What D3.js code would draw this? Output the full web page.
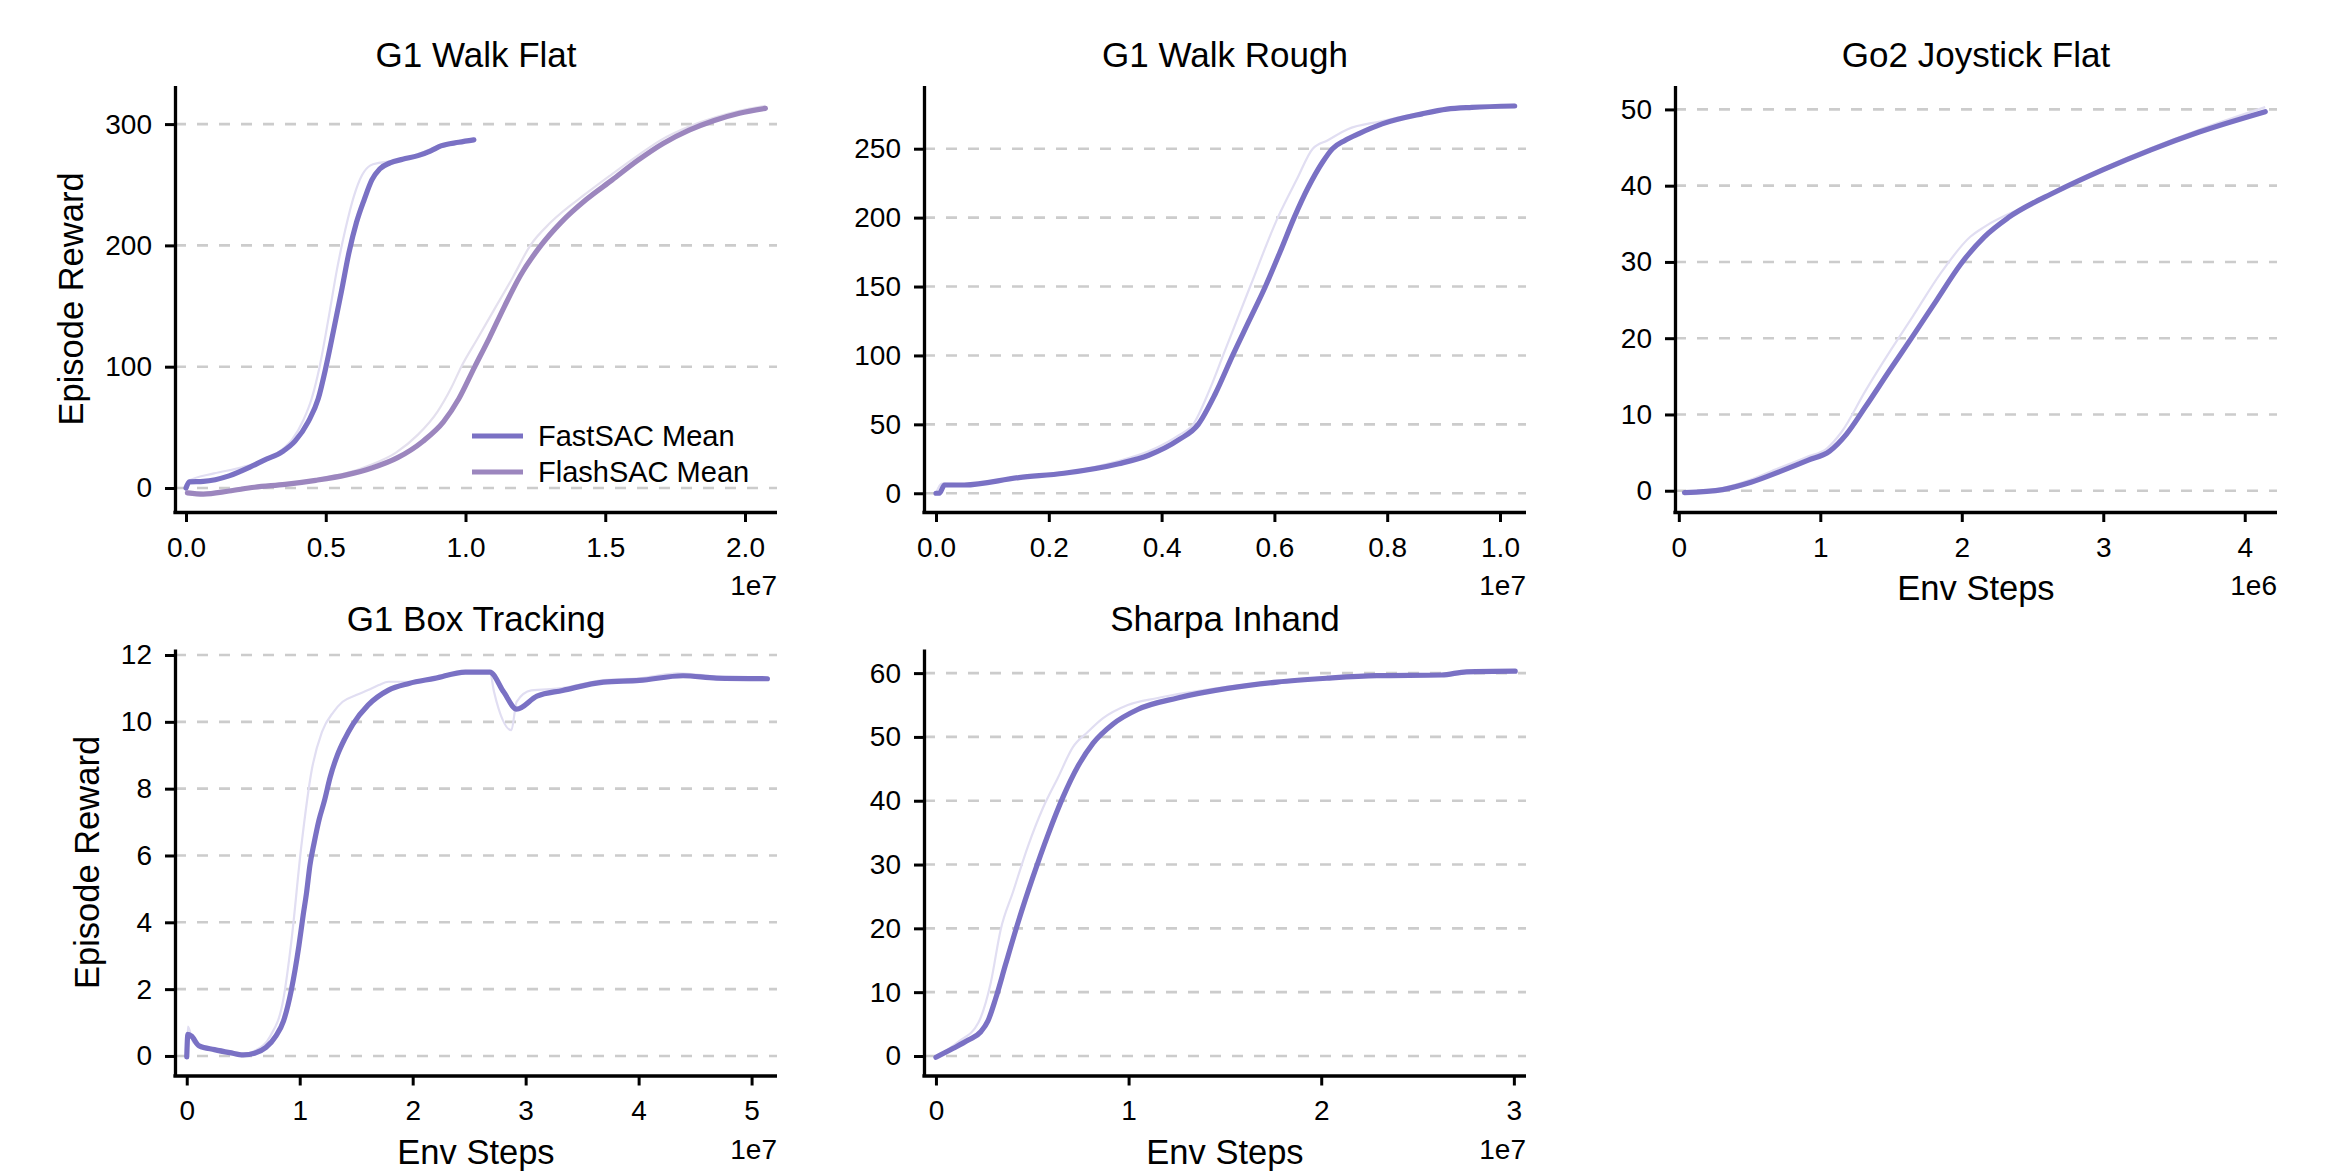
<!DOCTYPE html>
<html>
<head>
<meta charset="utf-8">
<script src="https://cdn.jsdelivr.net/npm/d3@7"></script>
<style>
  html, body { margin: 0; padding: 0; background: #fff; }
  svg text { font-family: "Liberation Sans", Arial, Helvetica, sans-serif; fill: #000; }
</style>
</head>
<body>
<svg id="chart" width="2325" height="1175"></svg>
<script>
// ---- data (x in units of 10^exponent env steps) ----
const panelTitles = ["G1 Walk Flat", "G1 Walk Rough", "Go2 Joystick Flat", "G1 Box Tracking", "Sharpa Inhand"];
const xExponents = ["1e7", "1e7", "1e6", "1e7", "1e7"];
const xTickValues = [
  [0, 0.5, 1.0, 1.5, 2.0],
  [0, 0.2, 0.4, 0.6, 0.8, 1.0],
  [0, 1, 2, 3, 4],
  [0, 1, 2, 3, 4, 5],
  [0, 1, 2, 3]
];
const yTickValues = [
  [0, 100, 200, 300],
  [0, 50, 100, 150, 200, 250],
  [0, 10, 20, 30, 40, 50],
  [0, 2, 4, 6, 8, 10, 12],
  [0, 10, 20, 30, 40, 50, 60]
];
const xLimits = [[-0.0394, 2.1145], [-0.0213, 1.0461], [-0.027, 4.228], [-0.104, 5.225], [-0.062, 3.063]];
const yLimits = [[-19.8, 331.4], [-13.6, 295.5], [-2.79, 53.07], [-0.585, 12.165], [-3.06, 63.7]];

const walkFlatFastMean = [[0,0],[0.012,5],[0.062,5.4],[0.154,10],[0.227,17],[0.28,23],[0.345,30],[0.39,38.6],[0.437,54.5],[0.473,73.5],[0.5,99],[0.528,130],[0.556,162],[0.583,194],[0.61,219],[0.638,238],[0.665,254],[0.693,263],[0.73,268],[0.775,271],[0.83,274],[0.876,278],[0.912,282],[0.976,285],[1.03,287]];
const walkFlatFastRaw = [[0,0],[0.01,6],[0.1,12],[0.2,17],[0.3,25],[0.34,31],[0.38,40],[0.42,56],[0.45,74],[0.478,100],[0.51,140],[0.54,180],[0.57,213],[0.6,240],[0.63,258],[0.66,266],[0.69,268],[0.75,270],[0.8,273],[0.85,277],[0.9,282],[0.97,285],[1.03,288]];
const walkFlatFlashMean = [[0.005,-4],[0.062,-5],[0.154,-2.5],[0.245,0.6],[0.355,3],[0.464,6.3],[0.574,10.8],[0.665,16.5],[0.757,25],[0.848,38.6],[0.921,54.5],[0.976,73.5],[1.031,99],[1.086,124],[1.14,150],[1.196,175],[1.27,200],[1.342,219],[1.433,238],[1.525,254],[1.616,270],[1.707,284],[1.8,295],[1.89,303],[1.98,309],[2.073,313]];
const walkFlatFlashRaw = [[0.005,-3],[0.06,-4],[0.15,-1.5],[0.25,1.5],[0.36,4],[0.46,7],[0.57,12],[0.66,19],[0.75,29],[0.83,44],[0.9,63],[0.95,83],[0.985,100],[1.04,122],[1.1,146],[1.17,174],[1.232,200],[1.305,219],[1.433,243],[1.52,258],[1.616,274],[1.7,287],[1.8,298],[1.9,306],[2.0,312],[2.073,315]];

const walkRoughMean = [[0,0],[0.006,0],[0.015,6],[0.05,6],[0.147,11.4],[0.227,14.5],[0.324,21.4],[0.377,27.6],[0.43,38.7],[0.465,50],[0.495,72],[0.526,100],[0.555,125],[0.584,150],[0.61,175],[0.635,200],[0.66,222],[0.685,240],[0.703,250],[0.725,256],[0.75,261],[0.791,268],[0.862,275.3],[0.906,278.7],[0.95,280],[1.026,281]];
const walkRoughRaw = [[0,0],[0.01,7],[0.05,6.5],[0.15,12],[0.23,15],[0.32,23],[0.38,31],[0.43,42],[0.456,50],[0.485,75],[0.509,100],[0.557,150],[0.606,200],[0.64,228],[0.668,250],[0.694,256],[0.729,264],[0.791,270],[0.86,276],[0.95,280],[1.026,282]];

const joystickMean = [[0.04,-0.26],[0.31,0.15],[0.51,1.1],[0.713,2.5],[0.915,4],[1.066,5.2],[1.184,7.4],[1.319,11],[1.487,15.7],[1.655,20.3],[1.823,25],[1.992,29.7],[2.16,33.3],[2.328,35.8],[2.664,39.2],[3.0,42.1],[3.337,44.7],[3.673,47],[4.145,49.7]];
const joystickRaw = [[0.04,-0.2],[0.3,0.3],[0.5,1.4],[0.7,2.9],[0.9,4.4],[1.05,5.6],[1.15,7.7],[1.319,13.1],[1.5,18.5],[1.655,22.9],[1.85,28.5],[2.06,33.3],[2.16,34.6],[2.5,37.7],[3.0,42.3],[3.673,47.3],[4.145,50.3]];

const boxTrackMean = [[0,-0.03],[0.01,0.65],[0.04,0.6],[0.11,0.3],[0.245,0.19],[0.38,0.1],[0.5,0.03],[0.6,0.08],[0.7,0.25],[0.79,0.6],[0.857,1.05],[0.925,1.96],[0.993,3.3],[1.03,4.2],[1.061,4.9],[1.09,5.7],[1.129,6.4],[1.17,7.05],[1.219,7.64],[1.27,8.35],[1.333,9.0],[1.4,9.5],[1.469,9.92],[1.605,10.5],[1.786,10.95],[1.967,11.15],[2.194,11.3],[2.466,11.49],[2.683,11.49],[2.806,10.89],[2.92,10.38],[3.1,10.77],[3.327,10.94],[3.69,11.19],[4.007,11.24],[4.393,11.38],[4.687,11.31],[5.14,11.29]];
const boxTrackRaw = [[0,-0.03],[0.01,0.88],[0.06,0.4],[0.2,0.2],[0.5,0.05],[0.6,0.15],[0.74,0.6],[0.857,1.73],[0.925,3.4],[1.015,6.3],[1.106,8.55],[1.197,9.7],[1.3,10.3],[1.38,10.6],[1.5,10.8],[1.605,10.95],[1.7,11.1],[1.786,11.2],[2.0,11.2],[2.2,11.35],[2.466,11.5],[2.683,11.5],[2.72,10.9],[2.76,10.4],[2.874,9.75],[2.92,10.6],[3.05,10.94],[3.3,11.0],[3.69,11.25],[4.0,11.3],[4.35,11.45],[4.7,11.35],[5.14,11.3]];

const inhandMean = [[0,-0.2],[0.09,1.2],[0.168,2.5],[0.233,3.8],[0.27,5.5],[0.31,9],[0.362,14.4],[0.427,21],[0.504,28.1],[0.582,34.7],[0.66,40.6],[0.737,45.4],[0.815,49],[0.918,52],[1.047,54.3],[1.254,56.1],[1.513,57.6],[1.771,58.6],[2.03,59.2],[2.289,59.6],[2.625,59.7],[2.754,60.2],[3.007,60.3]];
const inhandRaw = [[0,-0.2],[0.116,2.2],[0.22,5.2],[0.284,11.4],[0.336,19.8],[0.4,25.7],[0.478,32.9],[0.556,38.9],[0.633,43.6],[0.711,48.4],[0.789,50.8],[0.866,52.9],[0.996,55],[1.151,56.1],[1.5,57.8],[2.0,59.3],[2.6,59.8],[3.007,60.4]];

const legendLabels = ["FastSAC Mean", "FlashSAC Mean"];

// series per panel: [mean, raw, method index]
const panelSeries = [
  [[walkFlatFastMean, walkFlatFastRaw, 0], [walkFlatFlashMean, walkFlatFlashRaw, 1]],
  [[walkRoughMean, walkRoughRaw, 0]],
  [[joystickMean, joystickRaw, 0]],
  [[boxTrackMean, boxTrackRaw, 0]],
  [[inhandMean, inhandRaw, 0]]
];

// ---- layout / style ----
const meanColors = ["#7a71c4", "#9c86be"];
const rawColors = ["#e1def2", "#e4e0ee"];
const colLeft = [175, 924, 1675];
const rowTop = [86, 649.5];
const axW = 602, axH = 426;
const panelPos = [[0, 0], [1, 0], [2, 0], [0, 1], [1, 1]];
const showYLabel = [true, false, false, true, false];
const showXLabel = [false, false, true, true, true];

const svg = d3.select("#chart");

panelTitles.forEach((title, i) => {
  const [c, r] = panelPos[i];
  const g = svg.append("g").attr("transform", `translate(${colLeft[c]},${rowTop[r]})`);

  const x = d3.scaleLinear().domain(xLimits[i]).range([0, axW]);
  const y = d3.scaleLinear().domain(yLimits[i]).range([axH, 0]);

  // dashed horizontal grid
  g.append("g").selectAll("line")
    .data(yTickValues[i])
    .enter().append("line")
    .attr("x1", 0).attr("x2", axW)
    .attr("y1", d => y(d)).attr("y2", d => y(d))
    .attr("stroke", "#cccccc")
    .attr("stroke-width", 2.6)
    .attr("stroke-dasharray", "11,11");

  const line = d3.line().x(d => x(d[0])).y(d => y(d[1])).curve(d3.curveMonotoneX);

  // raw (faint) curves first, then means
  panelSeries[i].forEach(([mean, raw, m]) => {
    g.append("path").datum(raw)
      .attr("d", line).attr("fill", "none")
      .attr("stroke", rawColors[m]).attr("stroke-width", 2.2);
  });
  panelSeries[i].forEach(([mean, raw, m]) => {
    g.append("path").datum(mean)
      .attr("d", line).attr("fill", "none")
      .attr("stroke", meanColors[m]).attr("stroke-width", 5.2)
      .attr("stroke-linejoin", "round").attr("stroke-linecap", "round");
  });

  const decimals = xTickValues[i].some(v => v % 1 !== 0);
  const xAxis = d3.axisBottom(x).tickValues(xTickValues[i])
    .tickFormat(d3.format(decimals ? ".1f" : "d"))
    .tickSize(10).tickSizeOuter(0).tickPadding(15);
  const yAxis = d3.axisLeft(y).tickValues(yTickValues[i])
    .tickFormat(d3.format("d"))
    .tickSize(10).tickSizeOuter(0).tickPadding(13);

  const gx = g.append("g").attr("transform", `translate(0,${axH})`).call(xAxis);
  const gy = g.append("g").call(yAxis);
  [gx, gy].forEach(a => {
    a.attr("font-family", null).attr("font-size", null);
    a.select(".domain").attr("stroke", "#000").attr("stroke-width", 3.3);
    a.selectAll(".tick line").attr("stroke", "#000").attr("stroke-width", 3);
    a.selectAll(".tick text").style("font-size", "28px");
  });
  // extend spines so they meet at the corner
  gx.select(".domain").attr("d", `M-1.6,0.5H${axW}`);
  gy.select(".domain").attr("d", `M0.5,0V${axH + 1.6}`);

  // title
  g.append("text")
    .attr("x", axW / 2).attr("y", -19)
    .attr("text-anchor", "middle")
    .style("font-size", "35px")
    .text(title);

  // offset text
  g.append("text")
    .attr("x", axW).attr("y", axH + 83)
    .attr("text-anchor", "end")
    .style("font-size", "28px")
    .text(xExponents[i]);

  if (showXLabel[i]) {
    g.append("text")
      .attr("x", axW / 2).attr("y", axH + 88)
      .attr("text-anchor", "middle")
      .style("font-size", "34.5px")
      .text("Env Steps");
  }

  if (showYLabel[i]) {
    let maxW = 0;
    gy.selectAll(".tick text").each(function () { maxW = Math.max(maxW, this.getComputedTextLength()); });
    const lx = -23 - maxW - 22;
    g.append("text")
      .attr("transform", `translate(${lx},${axH / 2}) rotate(-90)`)
      .attr("text-anchor", "middle")
      .style("font-size", "34.5px")
      .text("Episode Reward");
  }

  if (i === 0) {
    const lg = g.append("g").attr("transform", "translate(297,350)");
    legendLabels.forEach((lab, k) => {
      lg.append("line")
        .attr("x1", 0).attr("x2", 51)
        .attr("y1", k * 36).attr("y2", k * 36)
        .attr("stroke", meanColors[k]).attr("stroke-width", 5.2);
      lg.append("text")
        .attr("x", 66).attr("y", k * 36 + 10)
        .style("font-size", "29px")
        .text(lab);
    });
  }
});
</script>
</body>
</html>
